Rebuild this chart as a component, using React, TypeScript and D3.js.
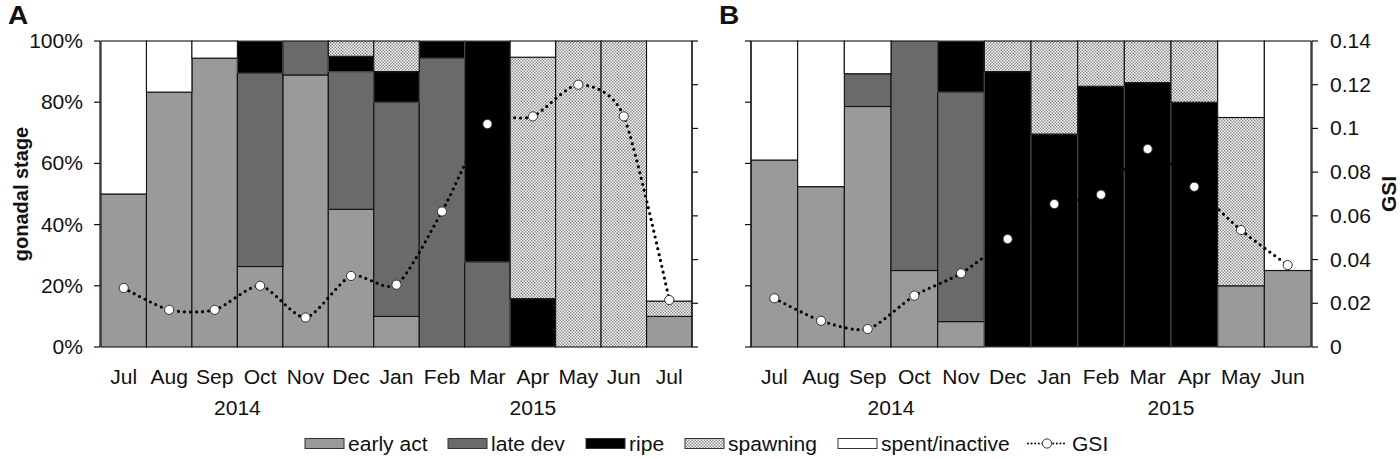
import React from "react";
import * as d3 from "d3";

// ---------- data ----------
const stageKeys = ["early", "late", "ripe", "spawning", "spent"];
const stageLabels = ["early act", "late dev", "ripe", "spawning", "spent/inactive"];

const monthsA = ["Jul", "Aug", "Sep", "Oct", "Nov", "Dec", "Jan", "Feb", "Mar", "Apr", "May", "Jun", "Jul"];
const earlyA = [50, 83.3, 94.4, 26.3, 88.9, 45, 10, 0, 0, 0, 0, 0, 10];
const lateA = [0, 0, 0, 63.2, 11.1, 45, 70, 94.4, 27.8, 0, 0, 0, 0];
const ripeA = [0, 0, 0, 10.5, 0, 5, 10, 5.6, 72.2, 15.8, 0, 0, 0];
const spawnA = [0, 0, 0, 0, 0, 5, 10, 0, 0, 78.9, 100, 100, 5];
const spentA = [50, 16.7, 5.6, 0, 0, 0, 0, 0, 0, 5.3, 0, 0, 85];
const gsiA = [0.027, 0.017, 0.017, 0.028, 0.0135, 0.0325, 0.0285, 0.062, 0.102, 0.1055, 0.12, 0.1055, 0.0215];
const yearsA = [
  { label: "2014", from: 0, to: 5 },
  { label: "2015", from: 6, to: 12 },
];

const monthsB = ["Jul", "Aug", "Sep", "Oct", "Nov", "Dec", "Jan", "Feb", "Mar", "Apr", "May", "Jun"];
const earlyB = [61.1, 52.4, 78.6, 25, 8.3, 0, 0, 0, 0, 0, 20, 25];
const lateB = [0, 0, 10.7, 75, 75, 0, 0, 0, 0, 0, 0, 0];
const ripeB = [0, 0, 0, 0, 16.7, 90, 69.6, 85.2, 86.4, 80, 0, 0];
const spawnB = [0, 0, 0, 0, 0, 10, 30.4, 14.8, 13.6, 20, 55, 0];
const spentB = [38.9, 47.6, 10.7, 0, 0, 0, 0, 0, 0, 0, 25, 75];
const gsiB = [0.0223, 0.012, 0.0082, 0.0235, 0.0337, 0.0494, 0.0654, 0.0697, 0.0906, 0.0733, 0.0535, 0.0375];
const yearsB = [
  { label: "2014", from: 0, to: 5 },
  { label: "2015", from: 6, to: 11 },
];

const pctTicks = [0, 20, 40, 60, 80, 100];
const gsiTicks = [0, 0.02, 0.04, 0.06, 0.08, 0.1, 0.12, 0.14];

// ---------- style ----------
const FONT = "'Liberation Sans', Arial, sans-serif";
const fills: Record<string, string> = {
  early: "#9a9a9a",
  late: "#6a6a6a",
  ripe: "#000000",
  spawning: "url(#stipple)",
  spent: "#ffffff",
};
const strokes: Record<string, string> = {
  early: "#111",
  late: "#111",
  ripe: "#4a4a4a",
  spawning: "#111",
  spent: "#111",
};

const TOP = 41;
const BOTTOM = 347;
const SX = 1.08;

function T(props: { x: number; y: number; anchor?: string; size?: number; weight?: string | number; children: any; rotate?: number }) {
  const { x, y, anchor = "middle", size = 19.5, weight = "normal", rotate = 0 } = props;
  const tr = rotate ? `translate(${x},${y}) rotate(${rotate})` : `translate(${x},${y}) scale(${SX},1)`;
  return (
    <text transform={tr} textAnchor={anchor as any} fontSize={size} fontWeight={weight as any} fontFamily={FONT} fill="#111">
      {props.children}
    </text>
  );
}

function Panel(props: {
  months: string[];
  series: number[][];
  gsi: number[];
  years: { label: string; from: number; to: number }[];
  x0: number;
  x1: number;
  axisL: number;
  axisR: number;
  leftLabels: boolean;
  rightLabels: boolean;
}) {
  const { months, series, gsi, years, x0, x1, axisL, axisR, leftLabels, rightLabels } = props;
  const idx = months.map((_, i) => i);
  const x = d3.scaleBand<number>().domain(idx).range([x0, x1]).padding(0);
  const yP = d3.scaleLinear().domain([0, 100]).range([BOTTOM, TOP]);
  const yG = d3.scaleLinear().domain([0, 0.14]).range([BOTTOM, TOP]);

  const rows = idx.map((i) => {
    const r: any = { i };
    stageKeys.forEach((k, j) => (r[k] = series[j][i]));
    return r;
  });
  const stacked = d3.stack<any>().keys(stageKeys)(rows);

  const line = d3
    .line<number>()
    .x((_, i) => (x(i) as number) + x.bandwidth() / 2)
    .y((d) => yG(d))
    .curve(d3.curveCardinal.tension(0.25));

  return (
    <g>
      {stacked.map((layer) => (
        <g key={layer.key}>
          {layer.map((seg, i) => {
            const h = yP(seg[0]) - yP(seg[1]);
            if (h <= 0.01) return null;
            return (
              <rect
                key={i}
                x={x(i)}
                y={yP(seg[1])}
                width={x.bandwidth()}
                height={h}
                fill={fills[layer.key]}
                stroke={strokes[layer.key]}
                strokeWidth={1.1}
              />
            );
          })}
        </g>
      ))}
      {/* left axis */}
      <line x1={axisL} x2={axisL} y1={TOP} y2={BOTTOM} stroke="#111" strokeWidth={1.2} />
      {pctTicks.map((t) => (
        <g key={"l" + t}>
          <line x1={axisL - 6} x2={axisL} y1={yP(t)} y2={yP(t)} stroke="#111" strokeWidth={1.2} />
          {leftLabels && (
            <T x={axisL - 17} y={yP(t) + 7} anchor="end">
              {t + "%"}
            </T>
          )}
        </g>
      ))}
      {/* right axis */}
      <line x1={axisR} x2={axisR} y1={TOP} y2={BOTTOM} stroke="#111" strokeWidth={1.2} />
      {gsiTicks.map((t) => (
        <g key={"r" + t}>
          <line x1={axisR} x2={axisR + 6} y1={yG(t)} y2={yG(t)} stroke="#111" strokeWidth={1.2} />
          {rightLabels && (
            <T x={axisR + 18} y={yG(t) + 7} anchor="start">
              {String(+t.toFixed(2))}
            </T>
          )}
        </g>
      ))}
      {/* GSI line */}
      <path d={line(gsi) || ""} fill="none" stroke="#000" strokeWidth={3.2} strokeDasharray="0 6" strokeLinecap="round" />
      {gsi.map((g, i) => (
        <circle key={i} cx={(x(i) as number) + x.bandwidth() / 2} cy={yG(g)} r={4.6} fill="#fff" stroke="#333" strokeWidth={1} />
      ))}
      {/* month labels */}
      {months.map((m, i) => (
        <T key={i} x={(x(i) as number) + x.bandwidth() / 2} y={384}>
          {m}
        </T>
      ))}
      {years.map((yr) => (
        <T key={yr.label} x={((x(yr.from) as number) + (x(yr.to) as number) + x.bandwidth()) / 2} y={415}>
          {yr.label}
        </T>
      ))}
    </g>
  );
}

const legendX = [305, 448, 586, 685, 838, 1028];

export default function App() {
  return (
    <svg width={1400} height={459} style={{ position: "absolute", left: 0, top: 0, background: "#fff" }}>
      <defs>
        <pattern id="stipple" width={3} height={3} patternUnits="userSpaceOnUse">
          <rect width={3} height={3} fill="#fff" />
          <rect x={0} y={0} width={1.5} height={1.5} fill="#8a8a8a" />
          <rect x={1.5} y={1.5} width={1.5} height={1.5} fill="#8a8a8a" />
        </pattern>
      </defs>
      <rect width={1400} height={459} fill="#fff" />
      <T x={8} y={24} anchor="start" size={26} weight="bold">A</T>
      <T x={719} y={24} anchor="start" size={26} weight="bold">B</T>

      <Panel
        months={monthsA}
        series={[earlyA, lateA, ripeA, spawnA, spentA]}
        gsi={gsiA}
        years={yearsA}
        x0={101}
        x1={692}
        axisL={100}
        axisR={692}
        leftLabels={true}
        rightLabels={false}
      />
      <Panel
        months={monthsB}
        series={[earlyB, lateB, ripeB, spawnB, spentB]}
        gsi={gsiB}
        years={yearsB}
        x0={751}
        x1={1311}
        axisL={751}
        axisR={1312}
        leftLabels={false}
        rightLabels={true}
      />

      <T x={28} y={194} rotate={-90} size={20} weight="bold">gonadal stage</T>
      <T x={1396} y={194} rotate={-90} size={21} weight="bold">GSI</T>

      {/* legend */}
      {stageKeys.map((k, i) => (
        <g key={k}>
          <rect x={legendX[i]} y={438.5} width={39} height={10} fill={fills[k]} stroke="#333" strokeWidth={1} />
          <T x={legendX[i] + 43} y={451} anchor="start">
            {stageLabels[i]}
          </T>
        </g>
      ))}
      <line x1={legendX[5]} x2={legendX[5] + 38} y1={443.5} y2={443.5} stroke="#000" strokeWidth={2} strokeDasharray="0 3.6" strokeLinecap="round" />
      <circle cx={legendX[5] + 19} cy={443.5} r={4.6} fill="#fff" stroke="#333" strokeWidth={1} />
      <T x={legendX[5] + 44} y={451} anchor="start">GSI</T>
    </svg>
  );
}
